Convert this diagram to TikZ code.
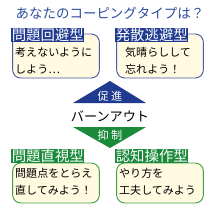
\documentclass[tikz,border=0pt]{standalone}
\usepackage{fontspec}
\setmainfont{Noto Sans CJK JP}
\usepackage{tikz}
\usetikzlibrary{positioning, calc}
\definecolor{titleblue}{HTML}{2C4C9C}
\definecolor{darkblue}{HTML}{1F3A8F}
\definecolor{darkgreen}{HTML}{1A8A3A}
\definecolor{boxblue}{HTML}{4A5AA8}
\definecolor{boxgreen}{HTML}{3FA048}
\definecolor{cream}{HTML}{FFFAE0}
\tikzset{
  typebox/.style={draw=#1, line width=0.8pt, rounded corners=0.24cm, fill=cream, minimum width=2.6cm, minimum height=1.3cm},
  typelabel/.style={fill=#1, text=white, inner sep=0.5pt, font=\fontsize{12.3}{13}\selectfont, anchor=west},
  typetext/.style={align=left, anchor=west, font=\fontsize{9.4}{14.5}\selectfont, inner sep=0pt}
}
\begin{document}
\begin{tikzpicture}[x=0.03cm, y=-0.03cm]
                \useasboundingbox (0,0) rectangle (220,210);
                \node[text=titleblue, font=\fontsize{11.5}{12}\selectfont] (title) at (110,13) {あなたのコーピングタイプは？};
                % upper boxes
                \node[typebox=boxblue, minimum height=1.32cm] (avoid) at (56,56) {};
                \node[typebox=boxblue, minimum height=1.32cm] (escape) at (160,56) {};
                \node[typelabel=darkblue] (avoidlbl) at (11,35) {問題回避型};
                \node[typelabel=darkblue] (escapelbl) at (115,35) {発散逃避型};
                \node[typetext] (avoidtxt) at (15,61) {考えないように\\しよう⋯};
                \node[typetext] (escapetxt) at (125,61) {気晴らしして\\忘れよう！};
                % lower boxes
                \node[typebox=boxgreen, minimum height=1.2cm] (face) at (56,183) {};
                \node[typebox=boxgreen, minimum height=1.2cm] (reframe) at (160,183) {};
                \node[typelabel=darkgreen] (facelbl) at (11,156) {問題直視型};
                \node[typelabel=darkgreen] (reframelbl) at (115,156) {認知操作型};
                \node[typetext] (facetxt) at (15,182) {問題点をとらえ\\直してみよう！};
                \node[typetext] (reframetxt) at (119,182) {やり方を\\工夫してみよう};
                % centre
                \fill[darkblue] (110,81) -- (146,103) -- (73,103) -- cycle;
                \fill[darkgreen] (73,127) -- (146,127) -- (110,148) -- cycle;
                \node[text=white, font=\fontsize{9.5}{10}\selectfont] (promote) at (110,96) {促\hspace{2pt}進};
                \node[text=white, font=\fontsize{9.5}{10}\selectfont] (inhibit) at (110,135) {抑\hspace{2pt}制};
                \node[font=\fontsize{11.2}{12}\selectfont] (burnout) at (110,116) {バーンアウト};
            \end{tikzpicture}
\end{document}
